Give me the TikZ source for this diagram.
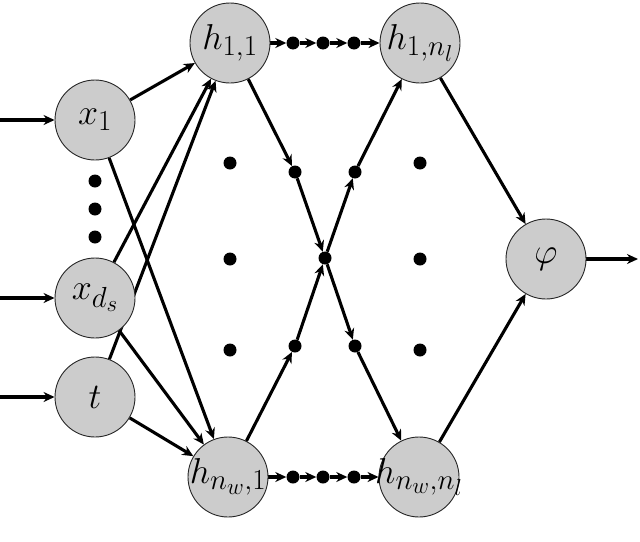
\documentclass[tikz,border=0pt]{standalone}
\usepackage{fix-cm}
\DeclareMathSizes{36}{36}{29}{23}
\usetikzlibrary{arrows.meta}
\pgfdeclarelayer{edges}
\pgfsetlayers{edges,main}
\newcommand{\lbl}[1]{\makebox[0pt][c]{$#1$}}
\begin{document}
\begin{tikzpicture}[x=1pt,y=-1pt,
  neuron/.style={circle,draw=black!85,line width=0.9pt,fill=black!20,minimum size=80pt,inner sep=0pt,font=\fontsize{36}{40}\selectfont},
  dotnode/.style={circle,fill=black,minimum size=13pt,inner sep=0pt},
  conn/.style={line width=3.1pt,-{Stealth[length=11pt,width=10pt]}}]
\useasboundingbox (0,0) rectangle (640,541);
% neurons
\node[neuron] (x1) at (95,120) {\lbl{x_1}};
\node[neuron] (xd) at (95,298) {\lbl{x_{d_s}}};
\node[neuron] (t) at (95,397) {\lbl{t}};
\node[neuron] (h11) at (230,43) {\lbl{h_{1,1}}};
\node[neuron] (h1n) at (420,43) {\lbl{h_{1,n_l}}};
\node[neuron] (hn1) at (228,477) {\lbl{h_{n_w,1}}};
\node[neuron] (hnn) at (419,477) {\lbl{h_{n_w,n_l}}};
\node[neuron] (phi) at (546,259) {\lbl{\varphi}};
% free ends
\coordinate (in1) at (0,120);
\coordinate (in2) at (0,298);
\coordinate (in3) at (0,397);
\coordinate (out) at (638,259);
% vertical dots between inputs
\node[dotnode] (v1) at (95,181) {};
\node[dotnode] (v2) at (95,209) {};
\node[dotnode] (v3) at (95,237) {};
% hidden column dots
\node[dotnode] (c1) at (230,163) {};
\node[dotnode] (c2) at (230,259) {};
\node[dotnode] (c3) at (230,350) {};
\node[dotnode] (c4) at (420,163) {};
\node[dotnode] (c5) at (420,259) {};
\node[dotnode] (c6) at (420,350) {};
% top and bottom chain dots
\node[dotnode] (ta) at (293,43) {};
\node[dotnode] (tb) at (323,43) {};
\node[dotnode] (tc) at (354,43) {};
\node[dotnode] (ba) at (293,477) {};
\node[dotnode] (bb) at (323,477) {};
\node[dotnode] (bc) at (354,477) {};
% crossing dots
\node[dotnode] (k1) at (295,172) {};
\node[dotnode] (k2) at (355,172) {};
\node[dotnode] (k0) at (325,258) {};
\node[dotnode] (k3) at (295,346) {};
\node[dotnode] (k4) at (355,346) {};
\begin{pgfonlayer}{edges}
% input arrows
\draw[conn] (in1) -- (x1);
\draw[conn] (in2) -- (xd);
\draw[conn] (in3) -- (t);
% input to hidden
\foreach \s in {x1,xd,t}{
  \draw[conn] (\s) -- (h11);
  \draw[conn] (\s) -- (hn1);
}
% chains
\draw[conn] (h11) -- (ta);
\draw[conn] (ta) -- (tb);
\draw[conn] (tb) -- (tc);
\draw[conn] (tc) -- (h1n);
\draw[conn] (hn1) -- (ba);
\draw[conn] (ba) -- (bb);
\draw[conn] (bb) -- (bc);
\draw[conn] (bc) -- (hnn);
% crossing
\draw[conn] (h11) -- (k1);
\draw[conn] (k1) -- (k0);
\draw[conn] (k0) -- (k4);
\draw[conn] (k4) -- (hnn);
\draw[conn] (hn1) -- (k3);
\draw[conn] (k3) -- (k0);
\draw[conn] (k0) -- (k2);
\draw[conn] (k2) -- (h1n);
% output
\draw[conn] (h1n) -- (phi);
\draw[conn] (hnn) -- (phi);
\draw[conn] (phi) -- (out);
\end{pgfonlayer}
\end{tikzpicture}
\end{document}
